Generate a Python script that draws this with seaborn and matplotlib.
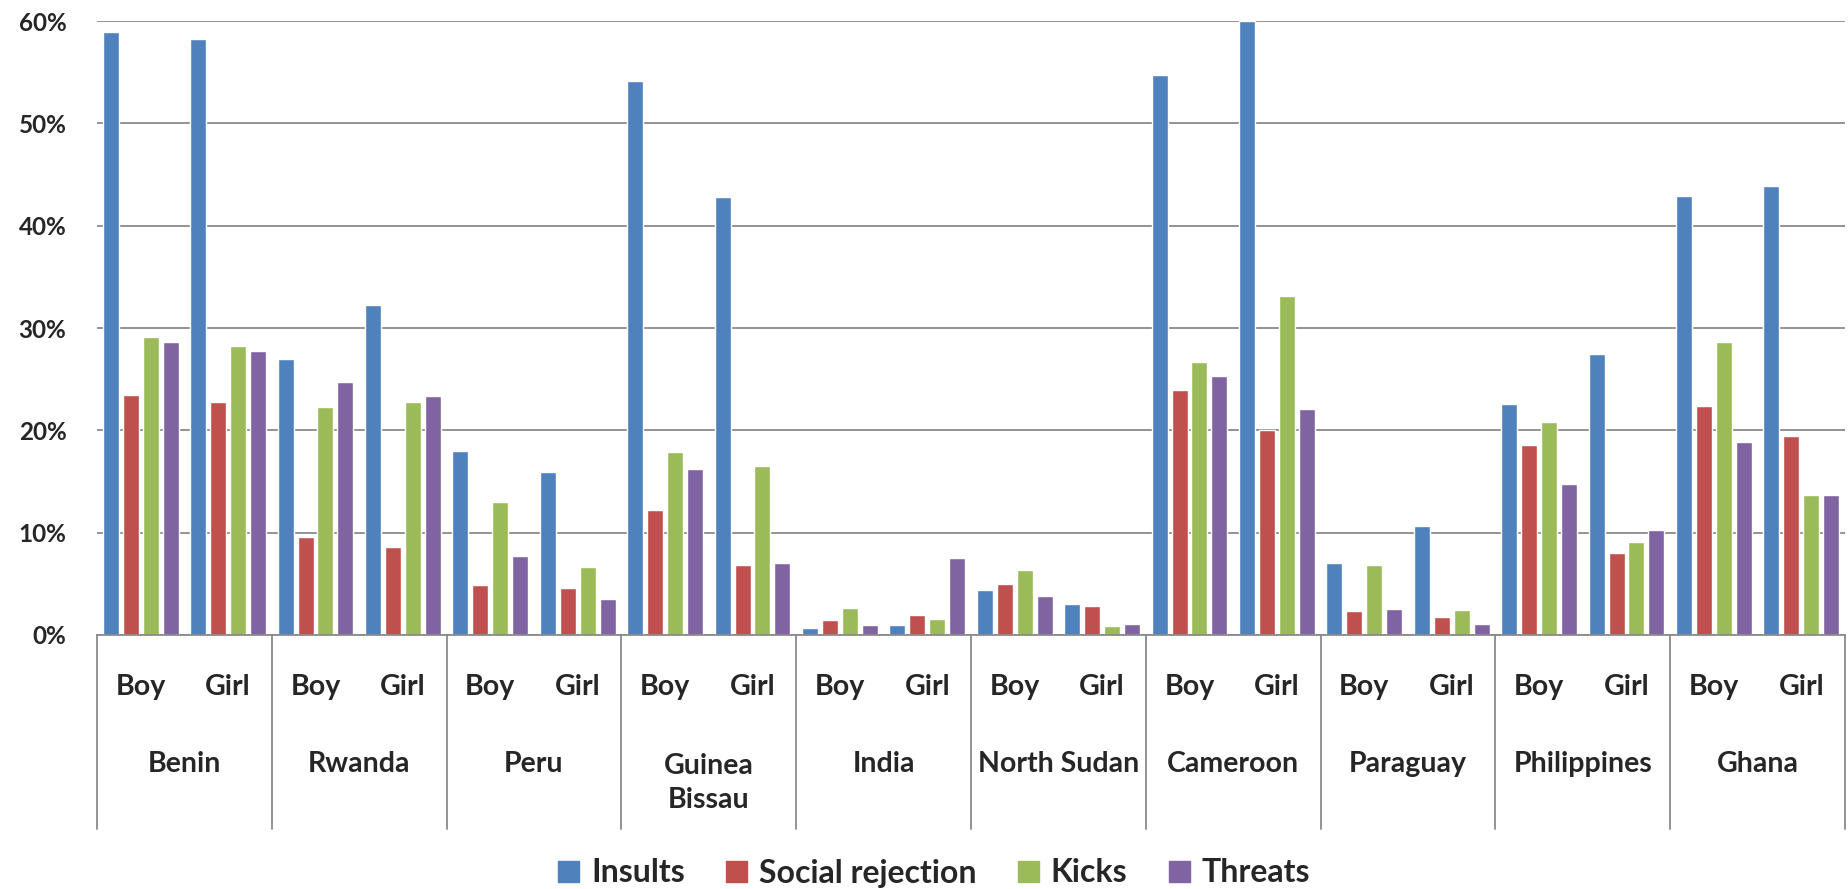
import numpy as np
import pandas as pd
import matplotlib
matplotlib.use("Agg")
import matplotlib.pyplot as plt
import matplotlib.transforms as mtransforms
from matplotlib.lines import Line2D
from matplotlib.ticker import PercentFormatter
import seaborn as sns

# ---- data (percent of children reporting each form of violence) ----
countries = ["Benin", "Rwanda", "Peru", "Guinea\nBissau", "India",
             "North Sudan", "Cameroon", "Paraguay", "Philippines", "Ghana"]
genders = ["Boy", "Girl"]
series = ["Insults", "Social rejection", "Kicks", "Threats"]

insults = [58.9, 58.2, 27.0, 32.2, 18.0, 15.9, 54.1, 42.8, 0.7, 1.0,
           4.4, 3.0, 54.7, 60.0, 7.0, 10.7, 22.6, 27.5, 42.9, 43.9]
social_rejection = [23.5, 22.8, 9.6, 8.6, 4.9, 4.6, 12.2, 6.8, 1.5, 2.0,
                    5.0, 2.8, 23.9, 20.0, 2.3, 1.8, 18.6, 8.0, 22.4, 19.4]
kicks = [29.1, 28.2, 22.3, 22.8, 13.0, 6.6, 17.9, 16.5, 2.6, 1.6,
         6.4, 0.9, 26.7, 33.1, 6.8, 2.4, 20.8, 9.1, 28.6, 13.7]
threats = [28.6, 27.8, 24.7, 23.4, 7.7, 3.5, 16.2, 7.0, 1.0, 7.5,
           3.8, 1.1, 25.3, 22.1, 2.5, 1.1, 14.8, 10.3, 18.9, 13.7]

colors = ["#4F81BD", "#C0504D", "#9BBB59", "#8064A2"]

# ---- long table: one row per (country, gender, series) ----
slots = [f"{c}|{g}" for c in countries for g in genders]
rows = []
for name, vals in zip(series, [insults, social_rejection, kicks, threats]):
    for slot, v in zip(slots, vals):
        rows.append({"slot": slot, "series": name, "value": v / 100.0})
df = pd.DataFrame(rows)

# ---- figure ----
sns.set_theme(style="white")
plt.rcParams["font.family"] = ["Lato", "DejaVu Sans"]
W, H = 1849, 889
fig = plt.figure(figsize=(W / 100, H / 100), dpi=100)
ax = fig.add_axes([97 / W, 1 - 635 / H, (1845 - 97) / W, (635 - 21) / H])

sns.barplot(data=df, x="slot", y="value", hue="series", order=slots,
            hue_order=series, palette=colors, width=0.915, gap=0.2,
            saturation=1, errorbar=None, ax=ax, legend=True)

ax.set_xlim(-0.5, len(slots) - 0.5)
ax.set_ylim(0, 0.6)
ax.set_yticks(np.arange(0, 0.61, 0.1))
ax.yaxis.set_major_formatter(PercentFormatter(1.0, decimals=0))
ax.grid(axis="y", color="#8a8a8a", linewidth=1.3)
ax.set_axisbelow(True)
ax.set_xlabel("")
ax.set_ylabel("")
ax.set_xticks([])
for side in ["top", "right", "left"]:
    ax.spines[side].set_visible(False)
ax.spines["bottom"].set_color("#8a8a8a")
ax.spines["bottom"].set_linewidth(1.3)
ax.tick_params(axis="y", length=0, pad=22, labelsize=17.5)
for lab in ax.get_yticklabels():
    lab.set_fontweight("bold")

# ---- two-level category axis ----
trans = mtransforms.blended_transform_factory(ax.transData, fig.transFigure)
y_top = 1 - 635 / H
y_bot = 1 - 829 / H
for k in range(len(countries) + 1):
    x = -0.5 + 2 * k
    ax.add_line(Line2D([x, x], [y_top, y_bot], transform=trans,
                       color="#8a8a8a", linewidth=1.3, clip_on=False))

label_size = 20.5
for i, slot in enumerate(slots):
    ax.text(i, 1 - 687 / H, slot.split("|")[1], transform=trans,
            ha="center", va="center", fontsize=label_size, fontweight="bold")

for j, c in enumerate(countries):
    y_px = 783 if "\n" in c else 764
    ax.text(2 * j + 0.5, 1 - y_px / H, c, transform=trans,
            ha="center", va="center", fontsize=label_size,
            fontweight="bold", linespacing=1.35)

# ---- legend ----
ax.legend_.remove()
handles = [plt.Rectangle((0, 0), 1, 1, color=col) for col in colors]
fig.legend(handles, series, loc="center", bbox_to_anchor=(934 / W, 1 - 873 / H),
           ncol=4, frameon=False, prop={"size": 23, "weight": "bold"},
           handlelength=0.66, handleheight=0.66, handletextpad=0.36,
           columnspacing=1.3, borderpad=0.1)

fig.savefig("out.png", dpi=100)
